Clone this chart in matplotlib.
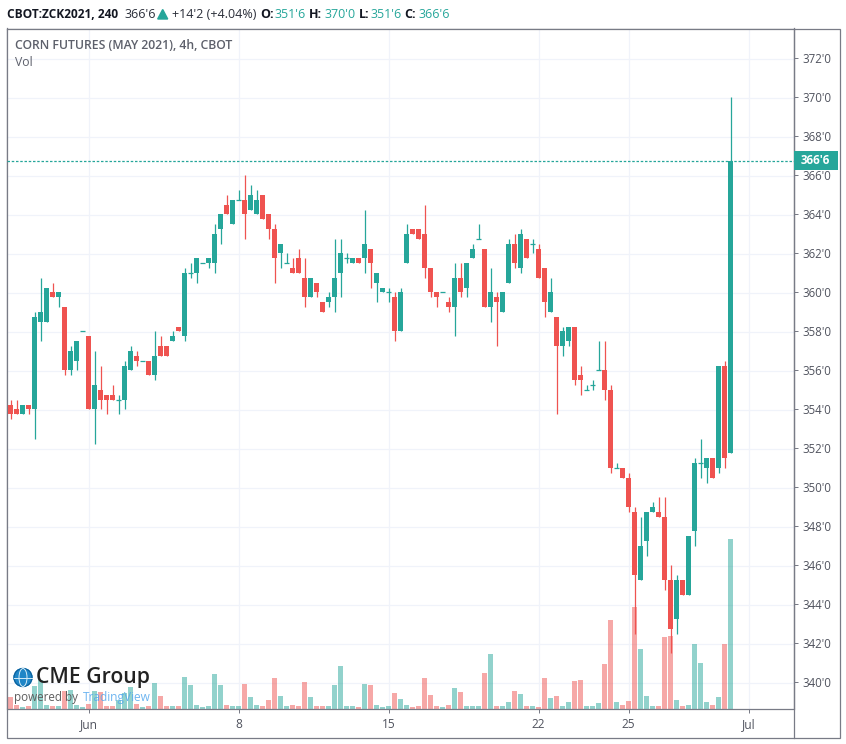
import matplotlib
matplotlib.use("Agg")
import matplotlib.pyplot as plt
from matplotlib.patches import Rectangle, Circle, Ellipse, Polygon

# candles: open, high, low, close (index 0..120, 4h bars)
opens = [354.25,354,353.75,354.25,354,358.5,358.5,360,359.75,359.25,356,356.5,358,357.75,354,355,354.75,354.75,354.5,354.5,356,356.75,356.5,356.5,355.75,357.25,357.25,357.5,358.25,357.75,361,361,361.5,361.5,361.5,363.25,364.5,363.5,364.75,364.75,364.25,364,365,364,363.25,362,361.5,361.25,361.75,360.75,359.75,360.5,359.5,359.5,359.75,361,361.75,361.5,361.75,361.75,362.25,360.5,360,360,359.75,358,361.5,363.25,363.25,363,361.25,360,360,359.5,359.25,360.75,360.25,361.75,362.75,362.25,359.25,359.75,359,360.5,362.5,361.25,362.75,362.5,362.25,361.25,359,358.75,357.25,357.5,358.25,355.75,355,355.25,356,356,355,351,351,350.5,348.75,345.25,347.25,348.75,348.75,348.5,345.25,343.25,345.25,344.5,347.75,351.25,351,351.5,351,356.25,351.75]
highs = [354.5,354.5,354.25,354.25,359,360.75,360.25,360.5,360,359.25,357.25,357.5,358,357.75,357,356.25,354.75,355.25,354.75,356.5,357.25,357,356.5,356.5,358,357.75,357.25,358,358.25,361.25,361.5,361.75,361.5,361.75,363.5,364,365,364.75,365.25,366,365.5,365.25,365,364,363.5,362.5,362,361.75,362.25,361.75,360.75,360.5,359.5,360,362.75,362.75,362,361.75,361.75,364.25,362.25,361,360.25,360.25,360,360.25,363.5,363.25,363.25,364.5,361.25,360,360,359.75,361.5,361.5,361.5,362.5,363.5,362.25,361.25,360,360,362.75,363,363.25,362.75,362.75,362.5,361.25,360.75,358.75,358.25,358.25,358.25,356.25,355.25,355.5,357.5,357.5,355.25,351.25,351,350.75,349,348.5,348.75,349.25,349.5,349.5,346,345.5,345.25,347.5,351.5,352.5,351.5,351.5,356.25,356.5,370]
lows = [353.5,353.75,353.75,353.75,352.5,357.5,358.5,359.75,359.25,355.75,355.75,356,358,354,352.25,354,353.75,354.5,353.75,354,356,356.25,356.5,355.75,355.5,356.75,356.75,357.5,358,357.5,360.75,360.5,361.5,361.25,361,362.5,364,363.5,364.75,362.75,364.25,364,363.75,362.75,360.5,361.25,361.5,361,361,359.25,359.75,359.75,359,359.25,359,359.75,361.5,361.5,361.5,361,360.25,359.5,360,359.5,357.5,358,361.5,363,362.75,360.75,359.75,359.25,360,359,357.75,359.75,359.75,361.75,362.75,359.25,358.5,357.25,359,360.5,361.25,361,361.75,362,360.75,358.75,359,353.75,356.75,357.25,355.25,354.75,355,355,356,354.5,350.75,351,350.5,348.75,342.5,345.25,346.5,348.75,348.5,344.75,341.5,342.5,344.5,344.5,347,350.5,350.25,350.5,350.75,351,351.75]
closes = [353.75,353.75,354.25,354,358.75,359,360.25,359.75,360,356,357,357.5,358,354,355.25,354.5,354.5,354.5,354.5,356.25,357,356.5,356.5,355.75,356.75,356.75,356.75,357.75,358,361,361,361.75,361.5,361.75,363,364,364,364.75,364.75,364,365,364.75,363.75,363.25,361.75,362.5,361.5,361,361,359.75,360.75,360,359,359.75,360.75,362,361.75,361.75,361.5,362.5,361.5,361,360.25,360,358,360,363,363,362.75,361.25,360,359.75,360,359.25,360.75,360,361.5,362.25,362.75,359.25,360,359.5,360,362.5,361.5,363,361.75,362.5,360.75,359.5,360,357.25,358,358.25,355.5,355.5,355,355.25,356,355,351,351,350.5,349,345.5,347,348.75,349,348.5,345.25,342.75,345.25,344.5,347.5,351.25,351.25,351.5,350.5,356.25,351.5,366.75]
volumes = [34,10,4,7,67,85,10,7,7,52,55,10,4,13,52,49,7,7,25,48,64,13,4,7,76,37,7,7,7,94,70,10,4,7,103,70,10,7,7,73,34,10,7,25,91,37,7,10,7,79,34,7,7,7,70,127,7,7,4,73,70,10,4,7,46,28,10,4,7,91,40,7,4,10,61,49,7,7,7,106,163,7,7,19,52,43,7,7,4,91,31,37,7,19,82,85,7,7,16,133,265,19,10,22,304,178,37,7,7,214,217,25,7,10,193,136,19,10,34,193,510]

price_ticks = [340,342,344,346,348,350,352,354,356,358,360,362,364,366,368,370,372]
price_labels = ["340'0","342'0","344'0","346'0","348'0","350'0","352'0","354'0","356'0","358'0","360'0","362'0","364'0","366'0","368'0","370'0","372'0"]
time_ticks = [13,38,63,88,103,123]
time_labels = ["Jun","8","15","22","25","Jul"]
last_price = 366.75

GREEN = "#26a69a"; RED = "#ef5350"; GRID = "#f0f3fa"; FRAME = "#787b86"; TXT = "#50535e"
PX = 0.72
WICK = 0.9
plt.rcParams["font.family"] = ["Open Sans", "DejaVu Sans"]

W, H = 846, 744
fig = plt.figure(figsize=(W/100, H/100), dpi=100)
def fx(x): return x/W
def fy(y): return 1 - y/H

L, R, T, B = 6.5, 793.5, 28.5, 708.5
X0 = 10.5
ax = fig.add_axes([fx(L), fy(B), fx(R)-fx(L), fy(T)-fy(B)])
ax.set_xlim((L-X0)/6, (R-X0)/6)
ax.set_ylim(340+(682.5-B)/19.5, 340+(682.5-T)/19.5)
ax.set_zorder(2); ax.patch.set_alpha(0)

# volume axis
vax = fig.add_axes(ax.get_position(), sharex=ax)
vax.set_zorder(1)
vax.set_ylim(0, (B-T)*3)
vax.set_xlim(ax.get_xlim())
vax.set_yticks([]); vax.tick_params(bottom=False, labelbottom=False)
for s in vax.spines.values(): s.set_visible(False)
colors = [GREEN if closes[i] >= opens[i] else RED for i in range(len(opens))]
vax.bar(range(len(volumes)), volumes, width=5/6, color=colors, alpha=0.5, linewidth=0, zorder=3)
for p in price_ticks:
    vax.axhline((p-ax.get_ylim()[0])*19.5*3, color=GRID, lw=WICK, zorder=0)
for t_ in time_ticks:
    vax.axvline(t_, color=GRID, lw=WICK, zorder=0)

# candles
for i in range(len(opens)):
    o, h, l, c = opens[i], highs[i], lows[i], closes[i]
    ax.vlines(i, l, h, color=colors[i], lw=WICK, zorder=4)
    if abs(c-o) < 1e-9:
        ax.hlines(o, i-2.5/6, i+2.5/6, color=colors[i], lw=WICK, zorder=4)
    else:
        ax.bar(i, abs(c-o), bottom=min(o, c), width=5/6, color=colors[i], linewidth=0, zorder=5)

ax.axhline(last_price, color=GREEN, lw=WICK, ls=(0, (2.0, 1.4)), zorder=6)

ax.yaxis.tick_right()
ax.set_yticks(price_ticks, price_labels)
ax.set_xticks(time_ticks, time_labels)
ax.tick_params(axis="y", length=2.6, width=PX, color=FRAME, labelcolor=TXT, labelsize=8.3, pad=3.6)
ax.tick_params(axis="x", length=2.6, width=PX, color=FRAME, labelcolor=TXT, labelsize=8.6, pad=4.6)
for s in ax.spines.values():
    s.set_color(FRAME); s.set_linewidth(0.9)

# outer frame
BB, RR = 737.5, 839.5
fig.add_artist(Rectangle((fx(L), fy(BB)), fx(RR-L), (BB-T)/H, transform=fig.transFigure, fill=False, ec=FRAME, lw=0.9))
fig.add_artist(plt.Line2D([fx(R), fx(R)], [fy(T), fy(BB)], color=FRAME, lw=0.9))

# last price tag
fig.add_artist(Rectangle((fx(793.5), fy(170)), 44.5/W, 19/H, transform=fig.transFigure, color=GREEN, lw=0, zorder=10))
fig.text(fx(815.5), fy(160.6), "366'6", color="white", fontsize=8.3, fontweight="bold", ha="center", va="center", zorder=11)

# header pieces
def t(x, s, color="#131722", weight="normal", size=9.0):
    fig.text(fx(x), fy(14.5), s, color=color, fontsize=size, fontweight=weight, ha="left", va="center")
t(6.5, "CBOT:ZCK2021, 240", weight="bold", size=8.6)
t(124, "366'6", color="#2a2e39")
fig.add_artist(Polygon([[fx(157.7),fy(19)],[fx(167.7),fy(19)],[fx(162.7),fy(9.5)]], closed=True, color=GREEN, transform=fig.transFigure))
t(172, "+14'2 (+4.04%)", color="#2a2e39")
t(260, "O:", weight="bold")
t(274.7, "351'6", color=GREEN)
t(309, "H:", weight="bold")
t(324, "370'0", color=GREEN)
t(358.7, "L:", weight="bold")
t(370, "351'6", color=GREEN)
t(404, "C:", weight="bold")
t(418.3, "366'6", color=GREEN)

# legend text
fig.text(fx(15), fy(45.5), "CORN FUTURES (MAY 2021), 4h, CBOT", color="#5d606b", fontsize=8.8, fontweight="semibold", va="center")
fig.text(fx(15), fy(62.5), "Vol", color="#5d606b", fontsize=8.8, va="center")

# CME logo
gx, gy = 23, 677.5
fig.add_artist(Circle((gx, H-gy), 9, transform=None, color="#1f86c7", zorder=12))
fig.add_artist(Circle((gx, H-gy), 9, transform=None, fill=False, ec="#0b5f9a", lw=0.8, zorder=13))
fig.add_artist(Ellipse((gx, H-gy), 8, 18, transform=None, fill=False, ec="#d4ecf8", lw=0.7, zorder=13))
fig.add_artist(plt.Line2D([gx-9, gx+9], [H-gy, H-gy], transform=None, color="#d4ecf8", lw=0.7, zorder=13))
fig.text(fx(35.5), fy(677.5), "CME Group", color="#222222", fontsize=15.2, fontweight="semibold", va="center", zorder=13)
fig.text(fx(14), fy(697), "powered by", color="#5e5e5e", fontsize=8.4, va="center", zorder=13)
fig.text(fx(83), fy(697), "TradingView", color="#54a8ee", fontsize=8.6, va="center", alpha=0.85, zorder=13)

fig.savefig("out.png", dpi=100)
